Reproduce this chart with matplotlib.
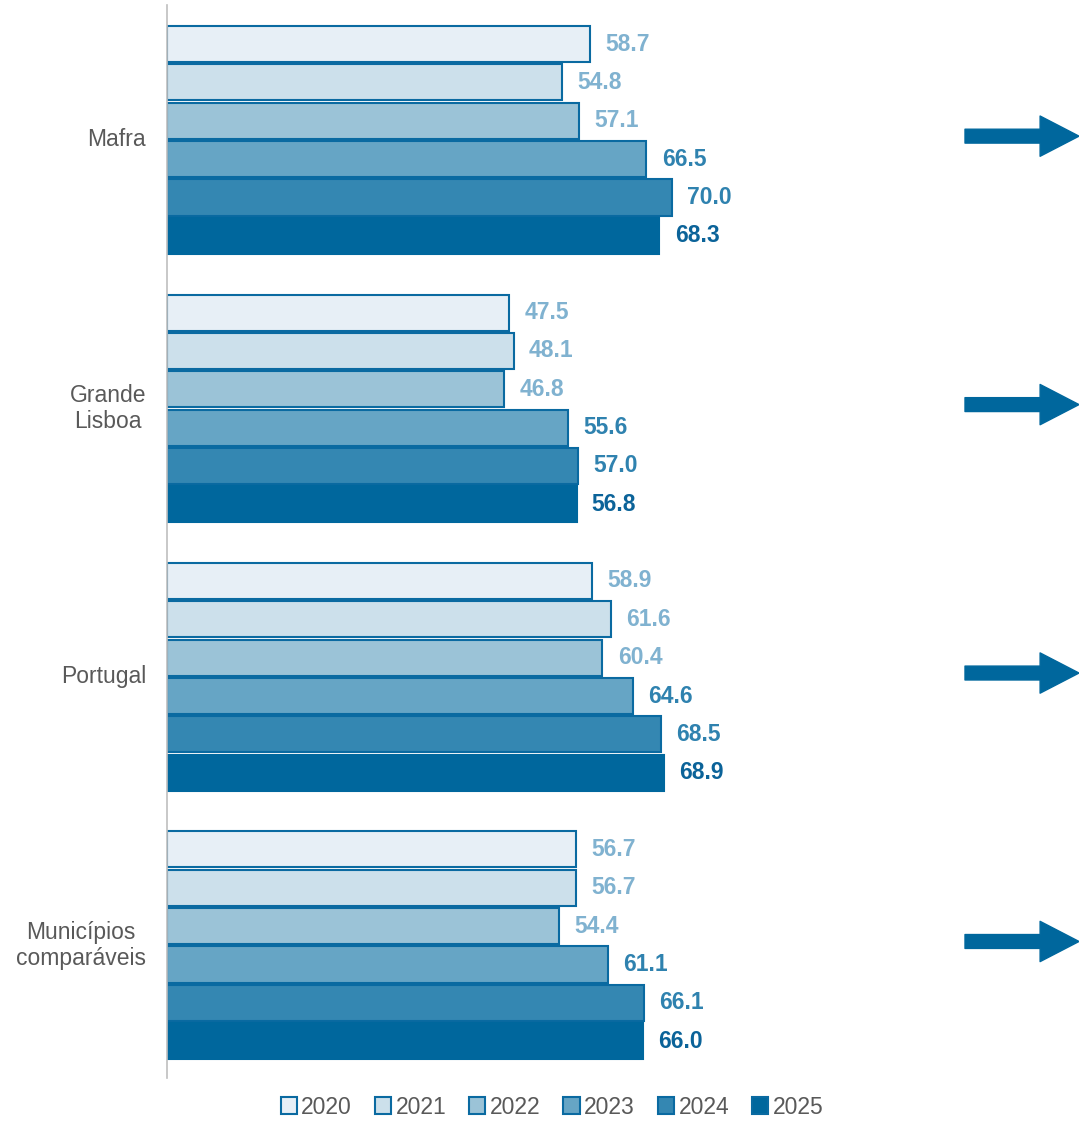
import numpy as np
import matplotlib.pyplot as plt
from matplotlib.patches import Patch

plt.rcParams['font.family'] = ['Liberation Sans', 'DejaVu Sans']

# Data -------------------------------------------------------------------------
regions = ['Mafra', 'Grande\nLisboa', 'Portugal', 'Municípios\ncomparáveis']
years = ['2020', '2021', '2022', '2023', '2024', '2025']
values = {
    '2020': [58.7, 47.5, 58.9, 56.7],
    '2021': [54.8, 48.1, 61.6, 56.7],
    '2022': [57.1, 46.8, 60.4, 54.4],
    '2023': [66.5, 55.6, 64.6, 61.1],
    '2024': [70.0, 57.0, 68.5, 66.1],
    '2025': [68.3, 56.8, 68.9, 66.0],
}

fills = ['#E7EFF6', '#CCE0EB', '#9BC3D7', '#66A5C5', '#3487B2', '#00679D']
label_colors = ['#80B2D0', '#80B2D0', '#80B2D0', '#2F82AF', '#2F82AF', '#0B6399']
edge = '#0A6AA1'

fig = plt.figure(figsize=(10.79, 11.22), dpi=100)
ax = fig.add_axes([167 / 1079, 1 - 1078 / 1122, 1 - 167 / 1079, (1078 - 5) / 1122])

gap = 7
for i, yr in enumerate(years):
    ys = np.arange(len(regions)) * gap + i
    bars = ax.barh(ys, values[yr], height=0.94, color=fills[i],
                   edgecolor=edge if i < 5 else fills[i], linewidth=1.5)
    for b, v in zip(bars, values[yr]):
        ax.annotate(f'{v:.1f}', xy=(b.get_width(), b.get_y() + b.get_height() / 2),
                    xytext=(11, 0), textcoords='offset points', va='center', ha='left',
                    fontsize=16.5, fontweight='bold', color=label_colors[i])

ax.set_xlim(0, (1079 - 167) / 7.21)
ax.set_ylim(26.96, -1.02)

# Group labels
for g, name in enumerate(regions):
    ax.annotate(name, xy=(0, g * gap + 2.5), xytext=(-15, 0), textcoords='offset points',
                ha='right', va='center', multialignment='center', fontsize=16.5,
                color='#595959')

# Trend arrows
for g in range(len(regions)):
    yc = g * gap + 2.4
    ax.annotate('', xy=(1.0, yc), xytext=(798 / 912, yc),
                xycoords=('axes fraction', 'data'), textcoords=('axes fraction', 'data'),
                arrowprops=dict(arrowstyle='simple,head_width=2.9,head_length=2.8,tail_width=1.0',
                                color='#00679D', mutation_scale=10, shrinkA=0, shrinkB=0))

for s in ['top', 'right', 'bottom']:
    ax.spines[s].set_visible(False)
ax.spines['left'].set_color('#BFBFBF')
ax.spines['left'].set_linewidth(1.2)
ax.set_xticks([])
ax.set_yticks([])

handles = [Patch(facecolor=fills[i], edgecolor=edge, linewidth=1.5, label=yr)
           for i, yr in enumerate(years)]
fig.legend(handles=handles, loc='center', bbox_to_anchor=(552 / 1079, 1 - 1107 / 1122),
           ncol=6, frameon=False, fontsize=16.5, handlelength=0.7, handleheight=0.7,
           handletextpad=0.2, columnspacing=1.0, labelcolor='#595959')

fig.savefig('out.png', dpi=100)
